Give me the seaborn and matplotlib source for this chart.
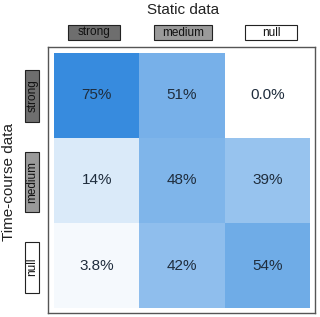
import numpy as np
import pandas as pd
import matplotlib
matplotlib.use("Agg")
import matplotlib.pyplot as plt
import seaborn as sns
from matplotlib.colors import LinearSegmentedColormap
from matplotlib.patches import Rectangle

# data
static_labels = ['strong', 'medium', 'null']
timecourse_labels = ['strong', 'medium', 'null']
row_strong = [0.75, 0.51, 0.0]
row_medium = [0.14, 0.48, 0.39]
row_null = [0.038, 0.42, 0.54]
cell_text = [['75%', '51%', '0.0%'],
             ['14%', '48%', '39%'],
             ['3.8%', '42%', '54%']]
box_colors = ['#6e6e6e', '#9a9a9a', '#ffffff']

df = pd.DataFrame([row_strong, row_medium, row_null],
                  index=timecourse_labels, columns=static_labels)

sns.set_style('white')
plt.rcParams['font.family'] = ['Liberation Sans', 'DejaVu Sans']

W, H = 320, 317
fig = plt.figure(figsize=(W / 100, H / 100), dpi=100)

# axes cover the framed area; heatmap cells sit slightly inside it
x0, x1, y0, y1 = 48, 315, 47, 313
ax = fig.add_axes([x0 / W, 1 - y1 / H, (x1 - x0) / W, (y1 - y0) / H])

blues = LinearSegmentedColormap.from_list('wb', ['#ffffff', '#2a84dc'])
sns.heatmap(df, ax=ax, cmap=blues, vmin=0, vmax=0.8, cbar=False,
            annot=np.array(cell_text), fmt='', square=False,
            annot_kws={'fontsize': 11, 'color': '#1f2d3d'},
            xticklabels=False, yticklabels=False)

cell = (x1 - x0 - 11) / 3
pad_l = 6 / cell
pad_r = 5 / cell
ax.set_xlim(-pad_l, 3 + pad_r)
ax.set_ylim(3 + pad_r, -pad_l)
for s in ax.spines.values():
    s.set_visible(True)
    s.set_color('#555555')
    s.set_linewidth(1.0)


def px_box(cx, cy, w, h, color, text, rot=0):
    fig.add_artist(Rectangle(((cx - w / 2) / W, 1 - (cy + h / 2) / H), w / W, h / H,
                             transform=fig.transFigure, facecolor=color,
                             edgecolor='#222222', linewidth=0.8))
    fig.text(cx / W, 1 - cy / H, text, ha='center', va='center',
             rotation=rot, fontsize=8.5, color='#111111')


# column header boxes
col_cx = [94, 183, 271]
col_w = [52, 58, 52]
for cx, w, c, t in zip(col_cx, col_w, box_colors, static_labels):
    px_box(cx, 32.5, w, 14, c, t)

# row header boxes
row_cy = [96, 182, 267]
row_h = [52, 59, 51]
for cy, h, c, t in zip(row_cy, row_h, box_colors, timecourse_labels):
    px_box(32.3, cy, 14, h, c, t, rot=90)

fig.text(183 / W, 1 - 10 / H, 'Static data', ha='center', va='center',
         fontsize=11, color='#222222')
fig.text(9 / W, 1 - 182 / H, 'Time-course data', ha='center', va='center',
         rotation=90, fontsize=11, color='#222222')

fig.savefig('out.png', dpi=100)
